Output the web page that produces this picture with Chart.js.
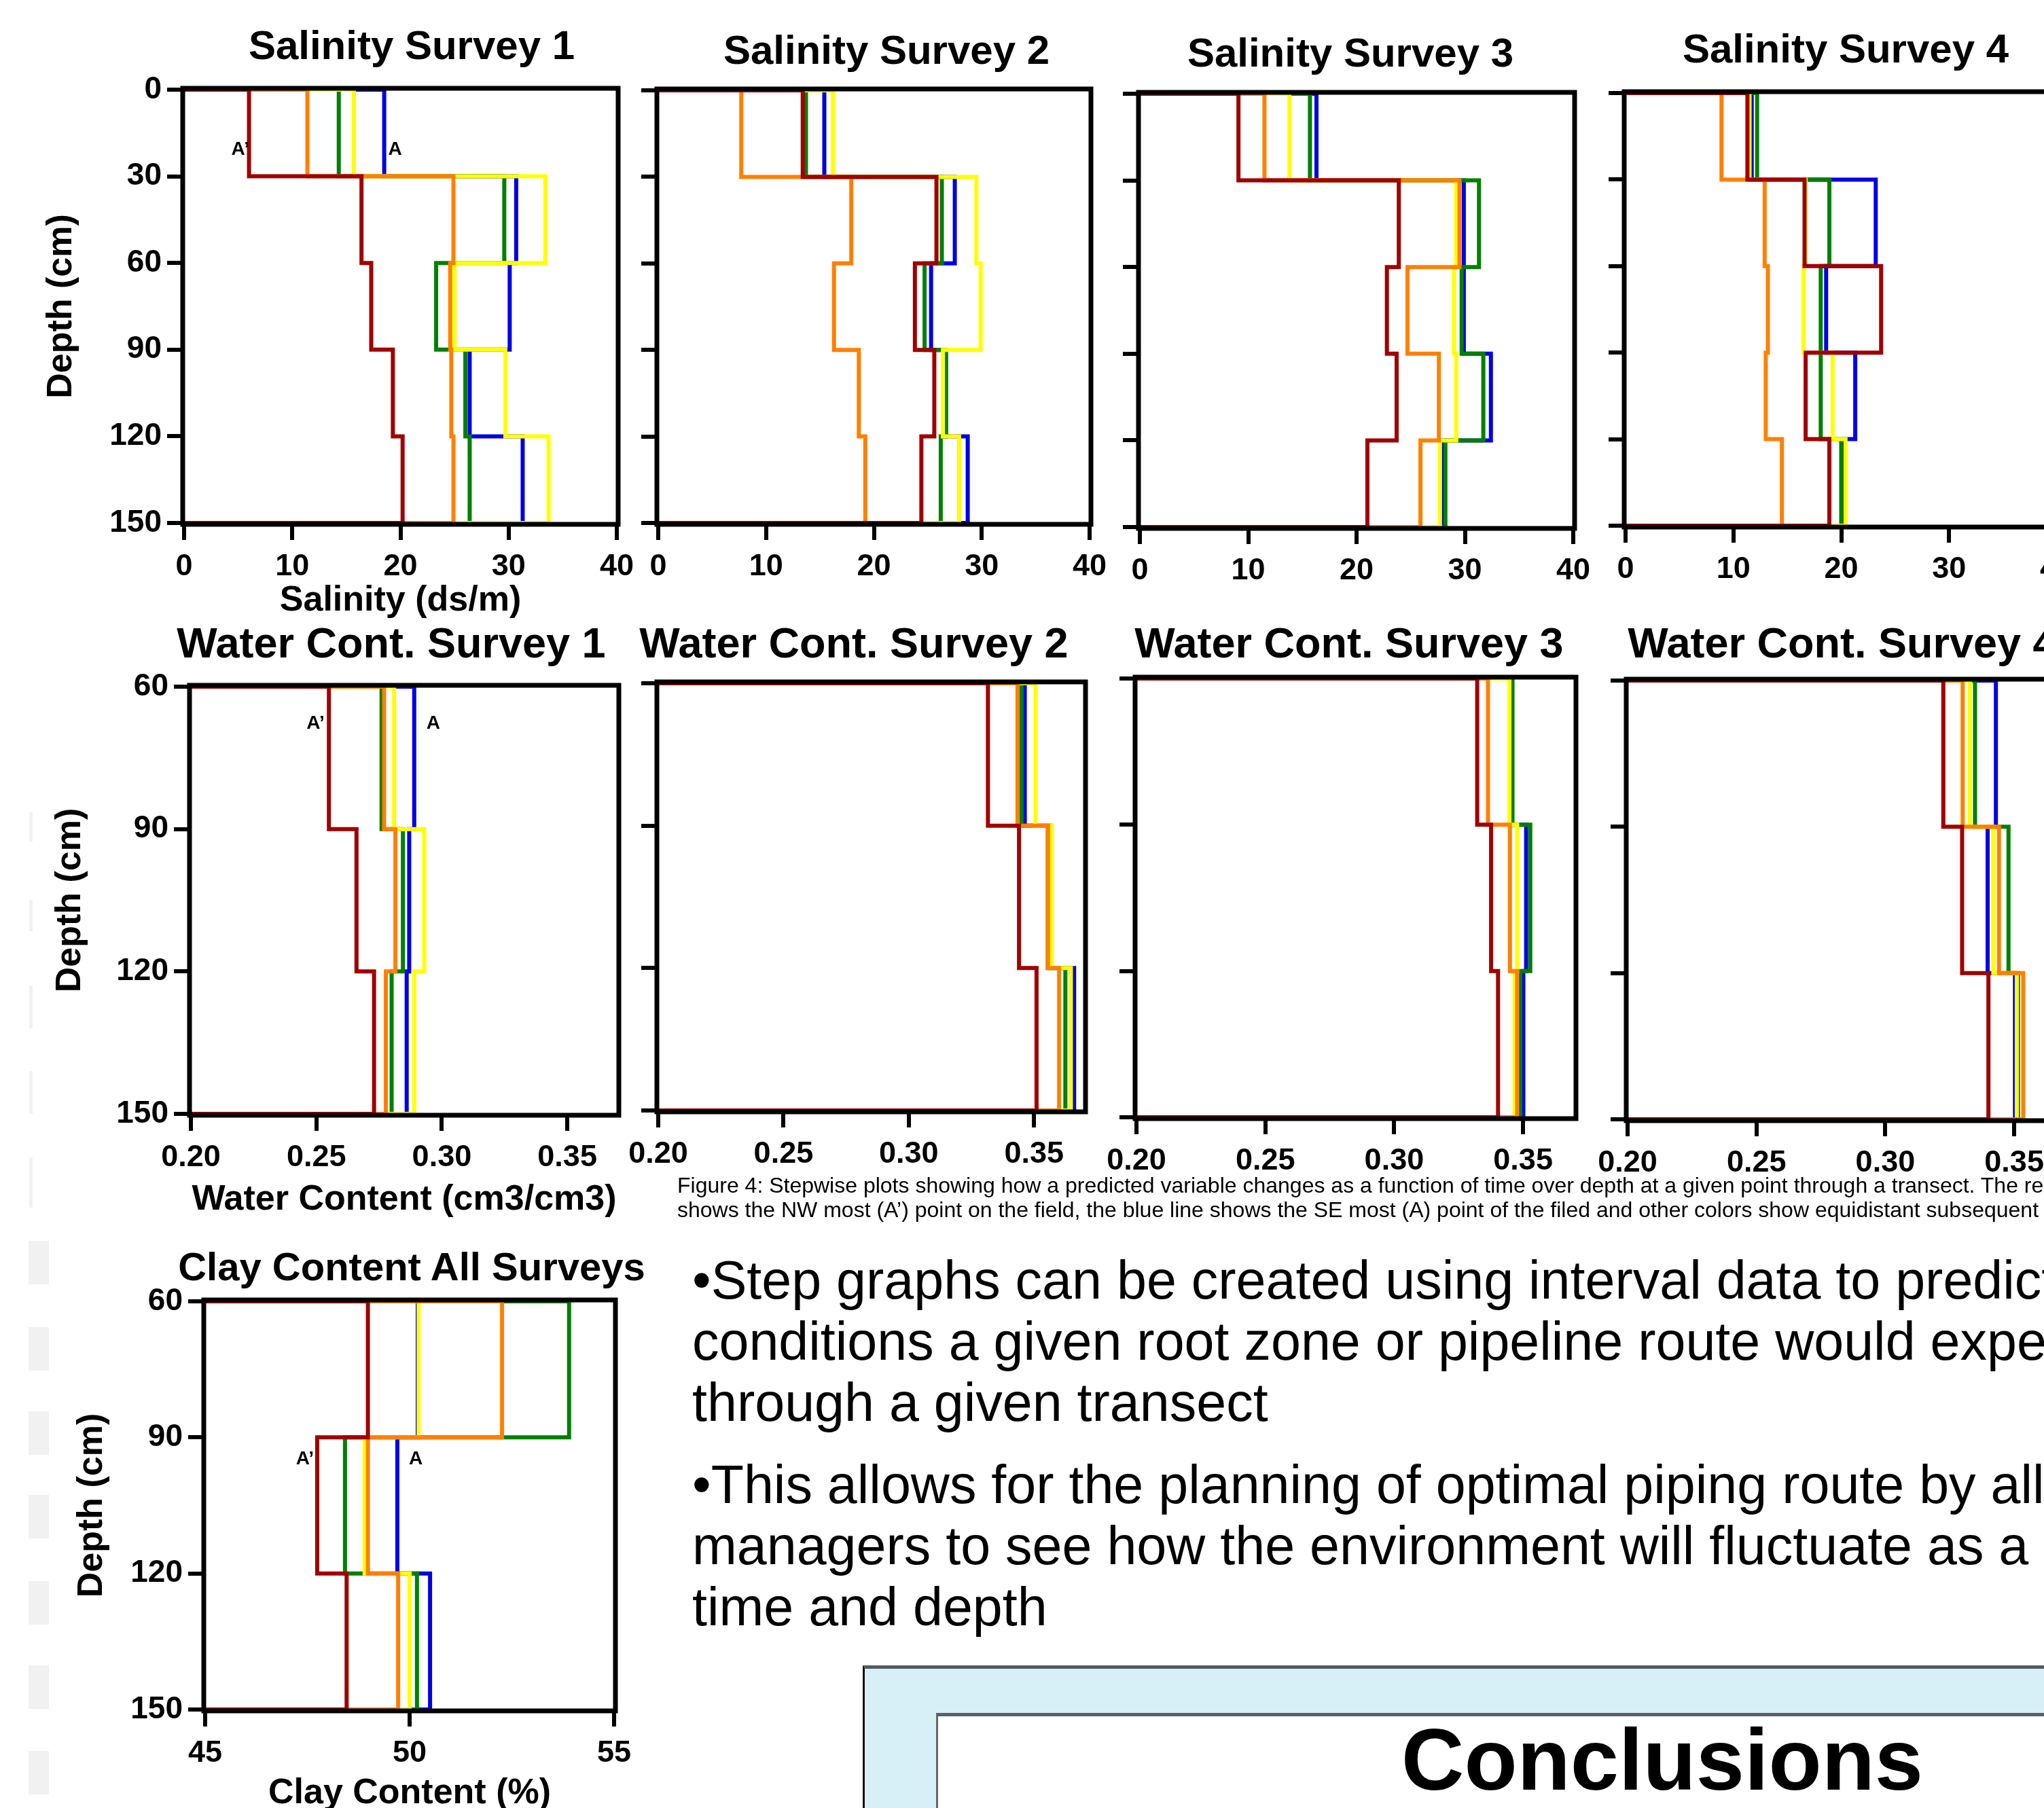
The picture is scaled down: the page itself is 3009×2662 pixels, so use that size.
<!DOCTYPE html>
<html>
<head>
<meta charset="utf-8">
<script src="https://cdn.jsdelivr.net/npm/chart.js@4.4.1/dist/chart.umd.min.js"></script>
<style>
html, body { margin: 0; padding: 0; background: #fff; }
body { width: 3009px; height: 2662px; overflow: hidden; position: relative; font-family: "Liberation Sans", Arial, sans-serif; color: #000; }
canvas { position: absolute; }
.ttl { position: absolute; font-weight: bold; font-size: 60px; line-height: 1; white-space: nowrap; transform: translate(-50%, -50%); }
.cap { position: absolute; left: 997px; top: 1727px; font-size: 32px; line-height: 36px; white-space: nowrap; }
.bul { position: absolute; left: 1019px; top: 1840px; font-size: 79px; line-height: 90px; white-space: nowrap; }
.bul div { white-space: nowrap; }
.outer { position: absolute; left: 1270px; top: 2452px; width: 1800px; height: 260px; background: #d7f0f7; border-top: 5px solid #555b61; border-left: 3px solid #111; }
.inner { position: absolute; left: 1378px; top: 2522px; width: 1700px; height: 200px; background: #fff; border-top: 5px solid #5a5f65; border-left: 3px solid #666; }
.concl { position: absolute; left: 2447px; top: 2527px; transform: translateX(-50%); font-weight: bold; font-size: 128px; line-height: 1; white-space: nowrap; }
.edge { position: absolute; background: #f1f1f1; }
</style>
</head>
<body>
<script>
// depth boundaries (cm) of the intervals
var depthSal = [0, 30, 60, 90, 120, 150];
var depthDeep = [60, 90, 120, 150];

// points along the transect, A' = NW most, A = SE most
var pointNames = ['A’', 'P2', 'P3', 'P4', 'A'];
var lineColors = ['#a00000', '#ff8000', '#ffff00', '#008000', '#0000e6'];

var salTicksX = [0, 10, 20, 30, 40];
var salTicksY = [0, 30, 60, 90, 120, 150];
var wcTicksX = [0.20, 0.25, 0.30, 0.35];
var deepTicksY = [60, 90, 120, 150];
var clayTicksX = [45, 50, 55];

// salinity (ds/m) per interval, rows: A', P2, P3, P4, A
var salinity1 = [
    [6.0, 16.4, 17.3, 19.3, 20.2],
    [11.4, 24.9, 24.6, 24.7, 24.9],
    [15.7, 33.4, 25.0, 29.7, 33.7],
    [14.3, 29.6, 23.3, 26.0, 26.4],
    [18.5, 30.7, 30.1, 26.4, 31.3]
];
var salinity2 = [
    [13.4, 25.8, 23.8, 25.6, 24.4],
    [7.7, 17.9, 16.3, 18.6, 19.2],
    [16.2, 29.5, 29.9, 26.4, 27.9],
    [13.7, 26.3, 24.7, 26.7, 26.2],
    [15.4, 27.5, 25.3, 26.5, 28.7]
];
var salinity3 = [
    [9.1, 23.9, 22.8, 23.7, 21.0],
    [11.5, 29.5, 24.7, 27.6, 25.9],
    [13.8, 29.2, 29.0, 29.2, 27.7],
    [15.7, 31.3, 29.7, 31.7, 28.2],
    [16.3, 29.9, 29.9, 32.4, 27.9]
];
var salinity4 = [
    [11.3, 16.6, 23.7, 16.7, 18.9],
    [8.9, 12.9, 13.2, 13.0, 14.5],
    [11.5, 16.7, 16.5, 19.2, 20.4],
    [12.2, 18.9, 18.1, 18.1, 20.0],
    [11.7, 23.2, 18.6, 21.3, 20.2]
];

// water content (cm3/cm3), 60-150 cm
var water1 = [
    [0.255, 0.266, 0.273],
    [0.277, 0.2815, 0.2777],
    [0.281, 0.293, 0.289],
    [0.276, 0.2845, 0.280],
    [0.289, 0.287, 0.286]
];
var water2 = [
    [0.3316, 0.344, 0.351],
    [0.3434, 0.3556, 0.360],
    [0.3506, 0.357, 0.3647],
    [0.345, 0.3555, 0.3625],
    [0.3463, 0.3565, 0.366]
];
var water3 = [
    [0.3322, 0.3376, 0.3403],
    [0.3364, 0.3449, 0.3477],
    [0.3447, 0.3477, 0.3467],
    [0.3459, 0.3528, 0.3489],
    [0.3455, 0.3512, 0.3501]
];
var water4 = [
    [0.3225, 0.3298, 0.340],
    [0.330, 0.3441, 0.3535],
    [0.3328, 0.3419, 0.351],
    [0.3348, 0.3478, 0.3515],
    [0.3429, 0.3397, 0.3503]
];

// clay content (%), all surveys
var clay = [
    [48.98, 47.74, 48.46],
    [52.26, 48.98, 49.72],
    [50.22, 48.9, 50.0],
    [53.9, 48.42, 50.18],
    [50.2, 49.7, 50.5]
];

// A' / A markers, in axis units
var marksSal1 = [{text: 'A’', x: 5.2, y: 20.7}, {text: 'A', x: 19.5, y: 20.7}];
var marksWater1 = [{text: 'A’', x: 0.2497, y: 67.8}, {text: 'A', x: 0.2966, y: 67.8}];
var marksClay = [{text: 'A’', x: 47.44, y: 94.8}, {text: 'A', x: 50.15, y: 94.8}];

Chart.defaults.font.family = '"Liberation Sans", Arial, sans-serif';
Chart.defaults.color = '#000';

function stepPoints(vals, depths, xmin){
    var pts = [{x: xmin, y: depths[0]}];
    for (var i = 0; i < vals.length; i++){
        pts.push({x: vals[i], y: depths[i]});
        pts.push({x: vals[i], y: depths[i + 1]});
    }
    pts.push({x: xmin, y: depths[depths.length - 1]});
    return pts;
}

var frame = {
    id: 'frame',
    afterDatasetsDraw: function(chart){
        var a = chart.chartArea;
        var ctx = chart.ctx;
        ctx.save();
        ctx.strokeStyle = '#000';
        ctx.lineWidth = 7;
        ctx.strokeRect(a.left - 2, a.top - 2, a.right - a.left + 4, a.bottom - a.top + 4);
        var marks = chart.options.plugins.frame.marks || [];
        ctx.fillStyle = '#000';
        ctx.font = 'bold 28px "Liberation Sans", Arial, sans-serif';
        ctx.textAlign = 'center';
        ctx.textBaseline = 'middle';
        marks.forEach(function(m){
            ctx.fillText(m.text, chart.scales.x.getPixelForValue(m.x), chart.scales.y.getPixelForValue(m.y));
        });
        ctx.restore();
    }
};

function makePanel(p){
    var yw = p.yw || 60;
    var xh = p.xh || 110;
    var padTop = 40, padRight = 45;
    var w = p.box[2] - p.box[0] + yw + padRight;
    var h = p.box[3] - p.box[1] + padTop + xh;
    var c = document.createElement('canvas');
    c.width = w; c.height = h;
    c.style.left = (p.box[0] - yw) + 'px';
    c.style.top = (p.box[1] - padTop) + 'px';
    c.style.width = w + 'px';
    c.style.height = h + 'px';
    document.body.appendChild(c);

    var datasets = p.series.map(function(vals, i){
        return {
            label: pointNames[i],
            data: stepPoints(vals, p.depths, p.xr[0]),
            showLine: true,
            borderColor: lineColors[i],
            backgroundColor: lineColors[i],
            borderWidth: 6,
            pointRadius: 0,
            tension: 0,
            borderJoinStyle: 'miter'
        };
    });

    var grid = {display: true, drawOnChartArea: false, drawTicks: true, tickLength: 25, tickWidth: 6, tickColor: '#000', color: '#000', lineWidth: 6};

    new Chart(c.getContext('2d'), {
        type: 'scatter',
        data: {datasets: datasets},
        options: {
            responsive: false,
            animation: false,
            devicePixelRatio: 1,
            layout: {padding: {top: padTop, right: padRight, left: 0, bottom: 0}},
            plugins: {legend: {display: false}, tooltip: {enabled: false}, frame: {marks: p.marks}},
            scales: {
                x: {
                    type: 'linear', min: p.xr[0], max: p.xr[1],
                    afterBuildTicks: function(s){ s.ticks = p.xt.map(function(v){ return {value: v}; }); },
                    afterFit: function(s){ s.height = xh; },
                    ticks: {
                        padding: 13,
                        font: {size: 45, weight: 'bold'},
                        callback: function(v){ return p.dec ? Number(v).toFixed(p.dec) : String(v); }
                    },
                    grid: grid,
                    border: {display: false},
                    title: {display: !!p.titleX, text: p.titleX, font: {size: 52, weight: 'bold'}, padding: {top: 0, bottom: 4}}
                },
                y: {
                    type: 'linear', min: p.yr[0], max: p.yr[1], reverse: true,
                    afterBuildTicks: function(s){ s.ticks = p.yt.map(function(v){ return {value: v}; }); },
                    afterFit: function(s){ s.width = yw; },
                    ticks: {display: !!p.titleY, padding: 8, font: {size: 46, weight: 'bold'}},
                    grid: grid,
                    border: {display: false},
                    title: {display: !!p.titleY, text: 'Depth (cm)', font: {size: 52, weight: 'bold'}, padding: {top: 4, bottom: 0}}
                }
            }
        },
        plugins: [frame]
    });
}

var salShared = {xr: [0, 40], xt: salTicksX, yr: [0, 150], yt: salTicksY, depths: depthSal};
var wcShared = {xr: [0.2, 0.37], xt: wcTicksX, yr: [60, 150], yt: deepTicksY, depths: depthDeep, dec: 2};

var panels = [
    Object.assign({box: [271, 132, 908, 770], yw: 216, xh: 150, series: salinity1, titleX: 'Salinity (ds/m)', titleY: true, marks: marksSal1}, salShared),
    Object.assign({box: [969, 133, 1604, 770], series: salinity2}, salShared),
    Object.assign({box: [1678, 138, 2316, 776], series: salinity3}, salShared),
    Object.assign({box: [2393, 137, 3028, 774], series: salinity4}, salShared),
    Object.assign({box: [281, 1011, 909, 1640], yw: 213, xh: 162, series: water1, titleX: 'Water Content (cm3/cm3)', titleY: true, marks: marksWater1}, wcShared),
    Object.assign({box: [969, 1006, 1596, 1635], series: water2}, wcShared),
    Object.assign({box: [1673, 999, 2318, 1645], series: water3}, wcShared),
    Object.assign({box: [2396, 1002, 3041, 1648], series: water4}, wcShared),
    {box: [302, 1916, 904, 2517], yw: 202, xh: 159, xr: [45, 55], xt: clayTicksX, yr: [60, 150], yt: deepTicksY,
     depths: depthDeep, series: clay, titleX: 'Clay Content (%)', titleY: true, marks: marksClay}
];

var titles = [
    ['Salinity Survey 1', 606, 67, 60], ['Salinity Survey 2', 1305, 74, 60], ['Salinity Survey 3', 1988, 78, 60], ['Salinity Survey 4', 2717, 72, 60],
    ['Water Cont. Survey 1', 576, 946, 63], ['Water Cont. Survey 2', 1257, 946, 63], ['Water Cont. Survey 3', 1986, 946, 63], ['Water Cont. Survey 4', 2712, 946, 63],
    ['Clay Content All Surveys', 606, 1865, 58]
];

// faint marks along the left poster edge
var edges = [[43, 1196, 5, 43], [43, 1325, 5, 46], [43, 1451, 5, 63], [43, 1577, 5, 63], [43, 1704, 5, 74],
    [42, 1827, 30, 64], [42, 1954, 30, 64], [42, 2078, 30, 64], [42, 2201, 30, 64], [42, 2328, 30, 64], [42, 2452, 30, 64], [42, 2578, 30, 64]];

edges.forEach(function(e){
    var d = document.createElement('div');
    d.className = 'edge';
    d.style.left = e[0] + 'px'; d.style.top = e[1] + 'px';
    d.style.width = e[2] + 'px'; d.style.height = e[3] + 'px';
    document.body.appendChild(d);
});

panels.forEach(makePanel);

titles.forEach(function(t){
    var d = document.createElement('div');
    d.className = 'ttl';
    d.textContent = t[0];
    d.style.left = t[1] + 'px';
    d.style.top = t[2] + 'px';
    d.style.fontSize = t[3] + 'px';
    document.body.appendChild(d);
});
</script>

<div class="cap">
<div>Figure 4: Stepwise plots showing how a predicted variable changes as a function of time over depth at a given point through a transect. The red</div>
<div>shows the NW most (A’) point on the field, the blue line shows the SE most (A) point of the filed and other colors show equidistant subsequent</div>
</div>

<div class="bul">
<div>•Step graphs can be created using interval data to predict</div>
<div>conditions a given root zone or pipeline route would experience</div>
<div>through a given transect</div>
<div style="margin-top:31px">•This allows for the planning of optimal piping route by allowing</div>
<div>managers to see how the environment will fluctuate as a</div>
<div>time and depth</div>
</div>

<div class="outer"></div>
<div class="inner"></div>
<div class="concl">Conclusions</div>
</body>
</html>
